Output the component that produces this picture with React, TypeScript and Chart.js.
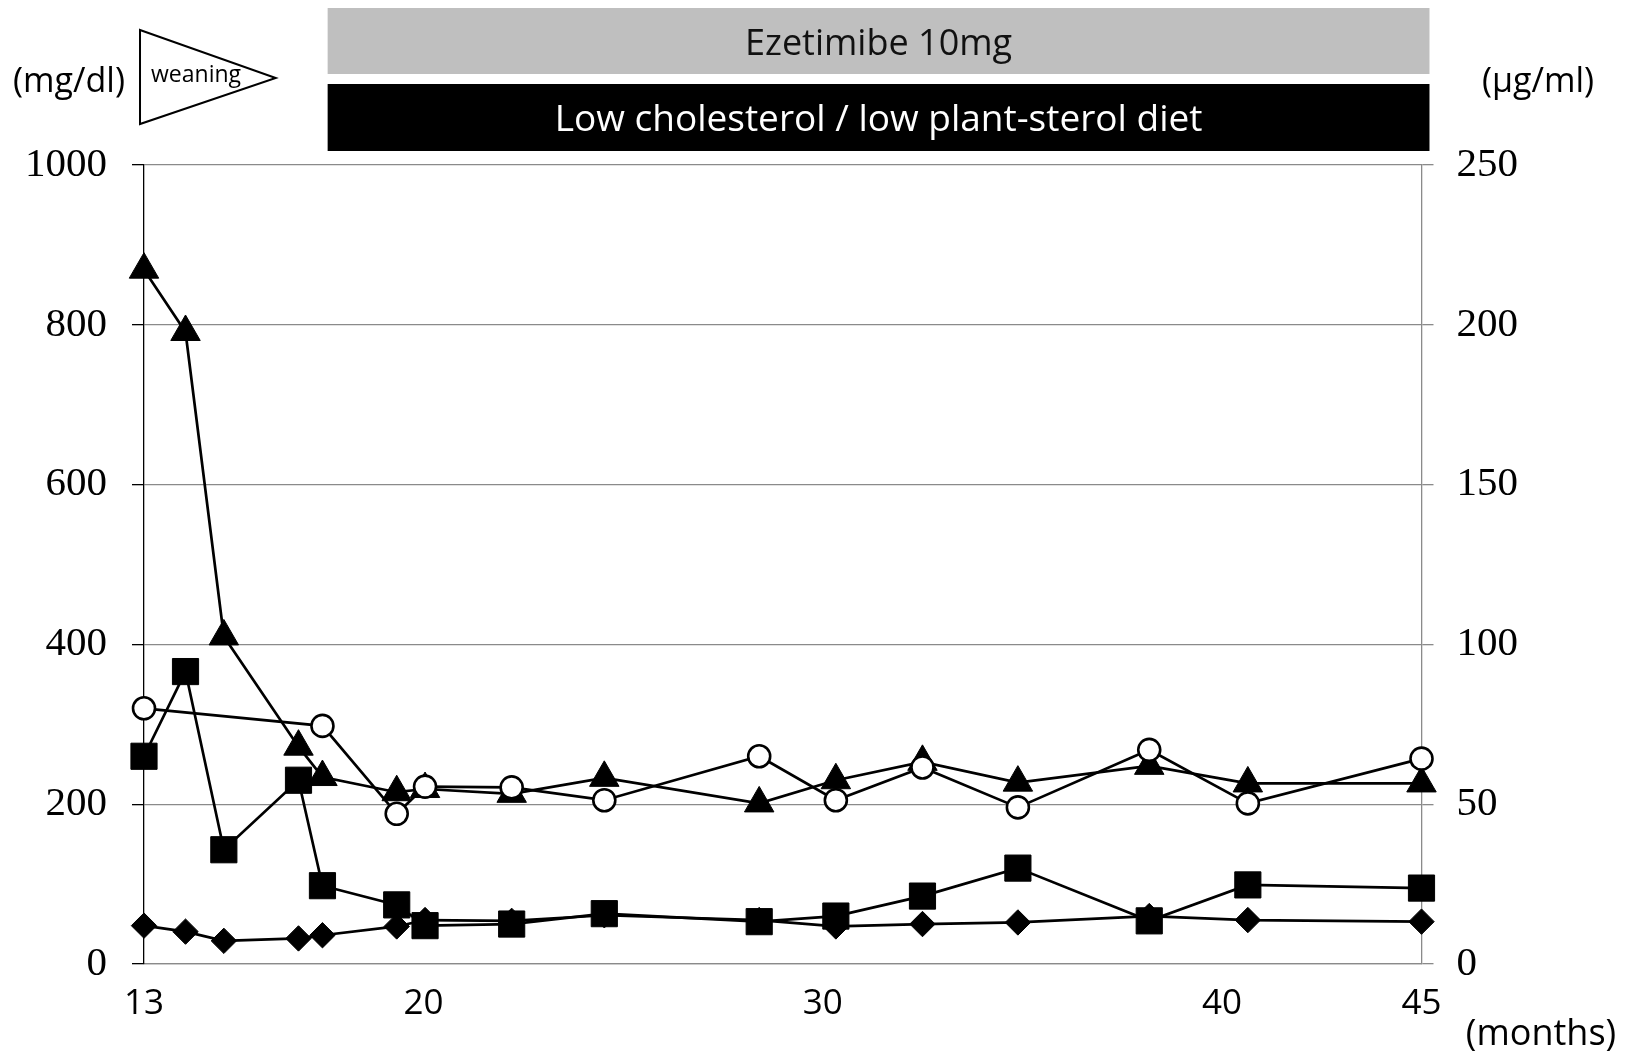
import React, { useEffect, useRef } from 'react';
import { Chart, registerables } from 'chart.js';

Chart.register(...registerables);

// Age in months at each visit
const months = [13, 14.04, 15, 16.87, 17.47, 19.33, 20.04, 22.21, 24.53, 28.41, 30.33, 32.5, 34.89, 38.18, 40.65, 45];
// Left axis (mg/dl)
const triangleValues = [869, 791, 410, 272, 234, 215, 219, 213, 233, 201, 230, 253, 227, 248, 226, 226];
const squareValues = [260, 366, 143, 230, 98, 74, 48, 50, 63, 53, 60, 85, 120, 54, 99, 95];
const diamondValues = [48, 40.5, 29, 32, 36, 47, 55, 54, 61, 55, 47, 50, 52, 60, 55, 53];
// Right axis (µg/ml)
const circleValues = [80, null, null, null, 74.5, 47, 55.5, 55.25, 51.25, 65, 51.25, 61.5, 49, 67, 50.25, 64.25];

const xTickValues = [13, 20, 30, 40, 45];
const leftAxis = { min: 0, max: 1000, step: 200 };
const rightAxis = { min: 0, max: 250, step: 50 };

const weaningSpan = [12.9, 16.3];
const treatmentSpan = [17.6, 45.2];
const ezetimibeText = 'Ezetimibe 10mg';
const dietText = 'Low cholesterol / low plant-sterol diet';
const leftUnit = '(mg/dl)';
const rightUnit = '(μg/ml)';
const xUnit = '(months)';
const weaningText = 'weaning';

const W = 1627;
const H = 1053;
const SANS = '"Open Sans", "Noto Sans", sans-serif';
const SERIF = '"Liberation Serif", "DejaVu Serif", serif';

const toPoints = (vals: (number | null)[]) => months.map((m, i) => ({ x: m, y: vals[i] }));

const overlayPlugin = {
  id: 'overlay',
  afterDraw(chart: any) {
    const ctx = chart.ctx as CanvasRenderingContext2D;
    const xs = chart.scales.x;
    ctx.save();
    // banners
    const bx0 = xs.getPixelForValue(treatmentSpan[0]);
    const bx1 = xs.getPixelForValue(treatmentSpan[1]);
    ctx.fillStyle = '#bfbfbf';
    ctx.fillRect(bx0, 8, bx1 - bx0, 66);
    ctx.fillStyle = '#000';
    ctx.fillRect(bx0, 84, bx1 - bx0, 67);
    ctx.textAlign = 'center';
    ctx.textBaseline = 'middle';
    ctx.font = `36px ${SANS}`;
    ctx.fillStyle = '#111';
    ctx.fillText(ezetimibeText, (bx0 + bx1) / 2, 45);
    ctx.font = `37px ${SANS}`;
    ctx.fillStyle = '#fff';
    ctx.fillText(dietText, (bx0 + bx1) / 2, 120);

    // weaning arrow
    const wx0 = xs.getPixelForValue(weaningSpan[0]);
    const wx1 = xs.getPixelForValue(weaningSpan[1]);
    ctx.beginPath();
    ctx.moveTo(wx0, 30);
    ctx.lineTo(wx1, 78);
    ctx.lineTo(wx0, 124);
    ctx.closePath();
    ctx.fillStyle = '#fff';
    ctx.fill();
    ctx.lineWidth = 2;
    ctx.strokeStyle = '#000';
    ctx.stroke();
    ctx.fillStyle = '#000';
    ctx.font = `23px ${SANS}`;
    ctx.textAlign = 'left';
    ctx.fillText(weaningText, wx0 + 11, 75);

    // units
    ctx.font = `34px ${SANS}`;
    ctx.textAlign = 'center';
    ctx.fillText(leftUnit, 69, 82);
    ctx.fillText(rightUnit, 1538, 82);
    ctx.font = `36px ${SANS}`;
    ctx.fillText(xUnit, 1541, 1035);
    ctx.restore();
  },
};

export default function App() {
  const ref = useRef<HTMLCanvasElement | null>(null);
  useEffect(() => {
    if (!ref.current) return;
    const lineW = 2.7;
    const chart = new Chart(ref.current, {
      type: 'line',
      data: {
        datasets: [
          {
            label: 'Sitosterol',
            data: toPoints(circleValues),
            yAxisID: 'y2',
            borderColor: '#000',
            borderWidth: lineW,
            pointStyle: 'circle',
            pointRadius: 11,
            pointBackgroundColor: '#fff',
            pointBorderColor: '#000',
            pointBorderWidth: 2.6,
            spanGaps: true,
            clip: false,
          },
          {
            label: 'TC',
            data: toPoints(triangleValues),
            yAxisID: 'y',
            borderColor: '#000',
            borderWidth: lineW,
            pointStyle: 'triangle',
            pointRadius: 17,
            pointBackgroundColor: '#000',
            pointBorderColor: '#000',
            pointBorderWidth: 1,
            clip: false,
          },
          {
            label: 'LDL-C',
            data: toPoints(squareValues),
            yAxisID: 'y',
            borderColor: '#000',
            borderWidth: lineW,
            pointStyle: 'rect',
            pointRadius: 18.5,
            pointBackgroundColor: '#000',
            pointBorderColor: '#000',
            pointBorderWidth: 1,
            clip: false,
          },
          {
            label: 'HDL-C',
            data: toPoints(diamondValues),
            yAxisID: 'y',
            borderColor: '#000',
            borderWidth: lineW,
            pointStyle: 'rectRot',
            pointRadius: 12.7,
            pointBackgroundColor: '#000',
            pointBorderColor: '#000',
            pointBorderWidth: 1,
            clip: false,
          },
        ],
      },
      options: {
        animation: false,
        responsive: false,
        devicePixelRatio: 1,
        layout: { padding: { top: 165, left: 0, right: 0, bottom: 0 } },
        plugins: { legend: { display: false }, tooltip: { enabled: false } },
        elements: { line: { tension: 0 } },
        scales: {
          x: {
            type: 'linear',
            min: 13,
            max: 45,
            afterBuildTicks: (s: any) => {
              s.ticks = xTickValues.map((v) => ({ value: v }));
            },
            afterFit: (s: any) => {
              s.height = 89;
            },
            grid: { display: false, drawTicks: false },
            border: { display: true, color: '#8a8a8a', width: 1.3 },
            ticks: {
              font: { family: SANS, size: 35 },
              color: '#000',
              padding: 19,
              maxRotation: 0,
              autoSkip: false,
              callback: (v: any) => String(v),
            },
          },
          y: {
            position: 'left',
            min: leftAxis.min,
            max: leftAxis.max,
            afterFit: (s: any) => {
              s.width = 144;
            },
            ticks: {
              stepSize: leftAxis.step,
              font: { family: SERIF, size: 41 },
              color: '#000',
              padding: 25,
              callback: (v: any) => String(v),
            },
            grid: { color: '#8a8a8a', lineWidth: 1.3, tickLength: 12, tickColor: '#000', tickWidth: 1.3 },
            border: { color: '#000', width: 1.3 },
          },
          y2: {
            position: 'right',
            min: rightAxis.min,
            max: rightAxis.max,
            afterFit: (s: any) => {
              s.width = 205.5;
            },
            ticks: {
              stepSize: rightAxis.step,
              font: { family: SERIF, size: 41 },
              color: '#000',
              padding: 23,
              callback: (v: any) => String(v),
            },
            grid: { drawOnChartArea: false, color: '#8a8a8a', lineWidth: 1.3, tickLength: 12, tickColor: '#8a8a8a', tickWidth: 1.3 },
            border: { color: '#8a8a8a', width: 1.3 },
          },
        },
      } as any,
      plugins: [overlayPlugin],
    });
    return () => chart.destroy();
  }, []);
  return (
    <div style={{ position: 'absolute', left: 0, top: 0, width: W, height: H, background: '#fff' }}>
      <canvas ref={ref} width={W} height={H} style={{ display: 'block', width: W, height: H }} />
    </div>
  );
}
